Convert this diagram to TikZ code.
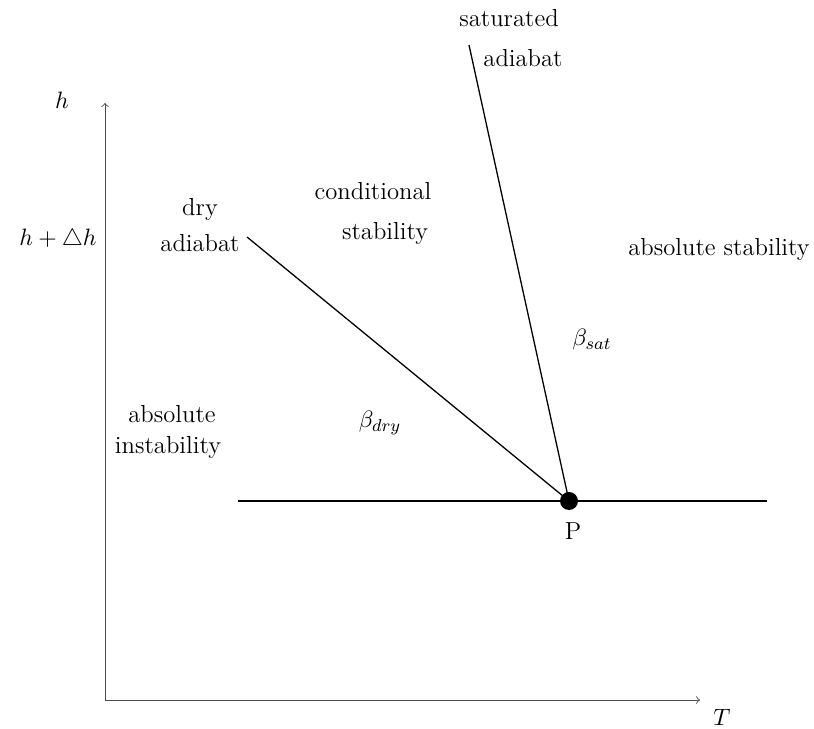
\documentclass[tikz,border=0pt]{standalone}
\usepackage{amssymb}
\begin{document}
\begin{tikzpicture}[x=0.4627pt,y=-0.4627pt,
  axis/.style={draw=black!70,line width=0.4pt,-to},
  adline/.style={draw=black,line width=0.6pt},
  lbl/.style={inner sep=0pt,font=\fontsize{11.4}{13.5}\selectfont}]
\useasboundingbox (0,0) rectangle (814,729);
\coordinate (O) at (105,700);
\coordinate (Ytop) at (105,103);
\coordinate (Xend) at (700,700);
\draw[axis] (O) -- (Ytop);
\draw[axis] (O) -- (Xend);
\node[lbl] (hlab) at (62,100) {$h$};
\node[lbl] (dhlab) at (58,240) {$h+\triangle h$};
\node[lbl] (Tlab) at (722,717) {$T$};
\coordinate (Hl) at (238,501);
\coordinate (Hr) at (767,501);
\coordinate (P) at (569,501);
\coordinate (D) at (247,237);
\coordinate (S) at (469,45);
\draw[adline] (Hl) -- (Hr);
\draw[adline] (D) -- (P);
\draw[adline] (S) -- (P);
\fill (P) circle (9);
\node[lbl] (Plab) at (573,531) {P};
\node[lbl] (sat1) at (509,18) {saturated};
\node[lbl] (sat2) at (523,58) {adiabat};
\node[lbl] (dry1) at (200,209) {dry};
\node[lbl] (dry2) at (200,243) {adiabat};
\node[lbl] (cond1) at (373,191) {conditional};
\node[lbl] (cond2) at (385,233) {stability};
\node[lbl] (abst) at (719,249) {absolute stability};
\node[lbl] (bsat) at (592,340) {$\beta_{sat}$};
\node[lbl] (bdry) at (380,423) {$\beta_{dry}$};
\node[lbl] (ai1) at (172,414) {absolute};
\node[lbl] (ai2) at (168,447) {instability};
\end{tikzpicture}
\end{document}
